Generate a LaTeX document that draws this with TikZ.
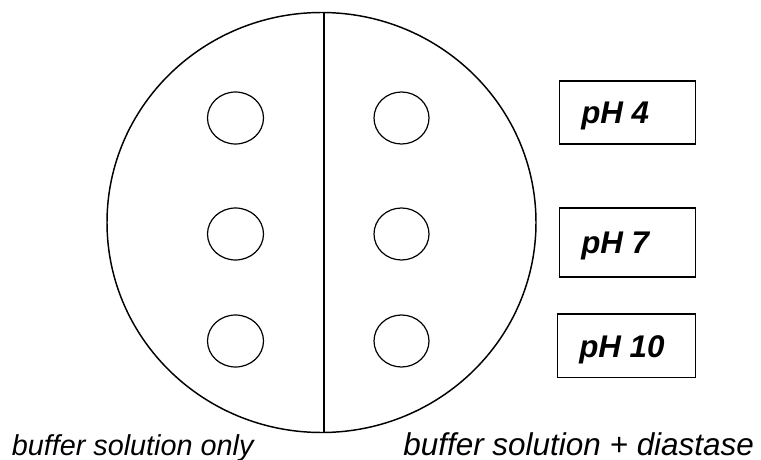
\documentclass[tikz,border=0pt]{standalone}
\usepackage{fontspec}
\setmainfont{Liberation Sans}
\begin{document}
\begin{tikzpicture}[x=0.75pt,y=-0.75pt,
  plate/.style={draw=black,line width=1.1pt},
  well/.style={draw=black,line width=0.9pt},
  phbox/.style={draw=black,line width=1.4pt},
  phtext/.style={anchor=base west,inner sep=0pt,font=\fontsize{23.5pt}{25pt}\selectfont\bfseries\itshape},
  caption/.style={anchor=base west,inner sep=0pt,font=\fontsize{21.6pt}{24pt}\selectfont\itshape},
  bigcaption/.style={caption,font=\fontsize{23.6pt}{26pt}\selectfont\itshape}]
  \useasboundingbox (0,0) rectangle (761,460);
  % Petri dish split in two halves
  \draw[plate] (321.5,222.5) ellipse [x radius=214.5, y radius=210];
  \coordinate (top) at (324,12.5);
  \coordinate (bottom) at (324,432.5);
  \draw[plate] (top) -- (bottom);
  % wells in both halves
  \foreach \y in {118,234,341}{
    \draw[well] (235.5,\y) ellipse [x radius=28, y radius=26];
    \draw[well] (401.5,\y) ellipse [x radius=27.5, y radius=26];
  }
  % pH labels
  \draw[phbox] (559.5,81) rectangle (695.5,144);
  \draw[phbox] (559.5,208) rectangle (695.5,277);
  \draw[phbox] (557.5,314) rectangle (695.5,377.5);
  \node[phtext] (ph4) at (581,123) {pH 4};
  \node[phtext] (ph7) at (581,253.5) {pH 7};
  \node[phtext] (ph10) at (579,357) {pH 10};
  % captions under each half
  \node[caption] (left) at (11.5,455) {buffer solution only};
  \node[bigcaption] (right) at (403,455.5) {buffer solution + diastase};
\end{tikzpicture}
\end{document}
